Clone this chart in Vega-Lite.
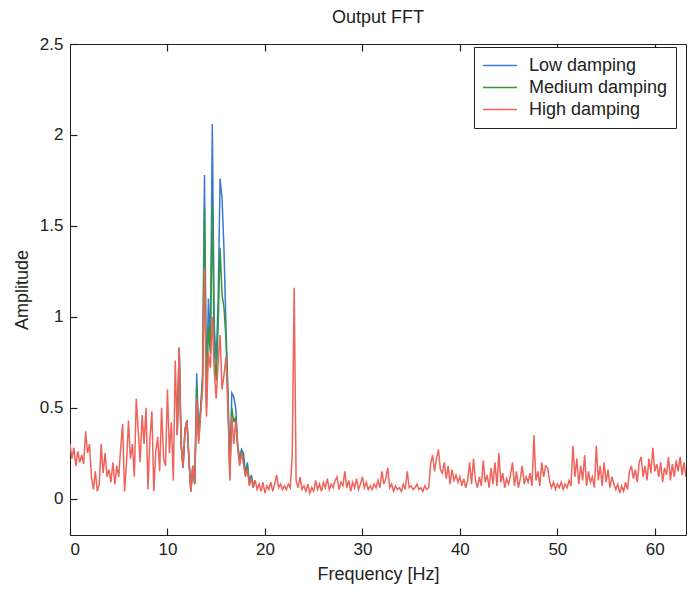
{
  "$schema": "https://vega.github.io/schema/vega-lite/v6.json",
  "autosize": "none",
  "width": 616,
  "height": 491,
  "padding": {"left": 70, "top": 44, "right": 2, "bottom": 54},
  "background": "white",
  "title": {"text": "Output FFT", "font": "Liberation Sans", "fontSize": 18, "fontWeight": "normal", "color": "#222", "offset": 8},
  "config": {
    "view": {"stroke": "#222", "strokeWidth": 1},
    "axis": {"grid": false, "domain": false, "offset": -7, "tickColor": "#222", "labelColor": "#222", "titleColor": "#222", "labelFont": "Liberation Sans", "titleFont": "Liberation Sans", "labelFontSize": 17, "titleFontSize": 18, "titleFontWeight": "normal", "tickSize": 7, "tickWidth": 1.2},
    "legend": {"labelFont": "Liberation Sans"}
  },
  "resolve": {"axis": {"x": "independent"}},
  "data": {"values": [
    {"f":0,"H":0.30},{"f":0.2,"H":0.22},{"f":0.4,"H":0.28},{"f":0.6,"H":0.18},{"f":0.8,"H":0.26},
    {"f":1,"H":0.20},{"f":1.2,"H":0.24},{"f":1.4,"H":0.19},{"f":1.6,"H":0.37},{"f":1.8,"H":0.25},
    {"f":2,"H":0.30},{"f":2.2,"H":0.12},{"f":2.4,"H":0.05},{"f":2.6,"H":0.15},{"f":2.8,"H":0.04},
    {"f":3,"H":0.08},{"f":3.2,"H":0.30},{"f":3.4,"H":0.14},{"f":3.6,"H":0.25},{"f":3.8,"H":0.12},
    {"f":4,"H":0.16},{"f":4.2,"H":0.09},{"f":4.4,"H":0.20},{"f":4.6,"H":0.08},{"f":4.8,"H":0.18},
    {"f":5,"H":0.12},{"f":5.2,"H":0.28},{"f":5.4,"H":0.41},{"f":5.6,"H":0.04},{"f":5.8,"H":0.20},
    {"f":6,"H":0.43},{"f":6.2,"H":0.22},{"f":6.4,"H":0.30},{"f":6.6,"H":0.12},{"f":6.8,"H":0.55},
    {"f":7,"H":0.38},{"f":7.2,"H":0.20},{"f":7.4,"H":0.46},{"f":7.6,"H":0.30},{"f":7.8,"H":0.50},
    {"f":8,"H":0.05},{"f":8.2,"H":0.33},{"f":8.4,"H":0.48},{"f":8.6,"H":0.04},{"f":8.8,"H":0.26},
    {"f":9,"H":0.34},{"f":9.2,"H":0.15},{"f":9.4,"H":0.50},{"f":9.6,"H":0.22},{"f":9.8,"H":0.18},
    {"f":10,"H":0.60},{"f":10.2,"H":0.25},{"f":10.4,"H":0.42},{"f":10.6,"H":0.10},{"f":10.8,"H":0.76},
    {"f":11,"H":0.35,"L":0.35,"M":0.35},{"f":11.2,"H":0.83,"L":0.83,"M":0.83},{"f":11.4,"H":0.30,"L":0.30,"M":0.30},{"f":11.6,"H":0.17,"L":0.17,"M":0.17},{"f":11.8,"H":0.38,"L":0.38,"M":0.38},
    {"f":12,"H":0.43,"L":0.43,"M":0.43},{"f":12.2,"H":0.22,"L":0.22,"M":0.22},{"f":12.4,"H":0.04,"L":0.04,"M":0.04},{"f":12.6,"H":0.18,"L":0.18,"M":0.18},{"f":12.8,"H":0.08,"L":0.08,"M":0.08},
    {"f":13,"H":0.55,"L":0.69,"M":0.62},{"f":13.2,"H":0.30,"L":0.35,"M":0.32},{"f":13.4,"H":0.46,"L":0.50,"M":0.48},{"f":13.6,"H":0.60,"L":0.68,"M":0.64},{"f":13.8,"H":1.27,"L":1.78,"M":1.60},
    {"f":14,"H":0.45,"L":0.55,"M":0.50},{"f":14.2,"H":0.80,"L":1.10,"M":0.95},{"f":14.4,"H":0.72,"L":0.85,"M":0.80},{"f":14.6,"H":1.00,"L":2.06,"M":1.62},{"f":14.8,"H":0.70,"L":0.95,"M":0.82},
    {"f":15,"H":0.55,"L":0.75,"M":0.65},{"f":15.2,"H":0.75,"L":1.10,"M":0.95},{"f":15.4,"H":0.90,"L":1.76,"M":1.38},{"f":15.6,"H":0.60,"L":1.65,"M":1.12},{"f":15.8,"H":0.68,"L":1.37,"M":1.05},
    {"f":16,"H":0.78,"L":0.95,"M":0.88},{"f":16.2,"H":0.50,"L":0.60,"M":0.55},{"f":16.4,"H":0.10,"L":0.15,"M":0.12},{"f":16.6,"H":0.45,"L":0.58,"M":0.50},{"f":16.8,"H":0.30,"L":0.56,"M":0.42},
    {"f":17,"H":0.43,"L":0.50,"M":0.45},{"f":17.2,"H":0.28,"L":0.30,"M":0.29},{"f":17.4,"H":0.18,"L":0.22,"M":0.20},{"f":17.6,"H":0.25,"L":0.27,"M":0.26},{"f":17.8,"H":0.19,"L":0.25,"M":0.21},
    {"f":18,"H":0.12,"L":0.14,"M":0.13},{"f":18.2,"H":0.16,"L":0.20,"M":0.18},{"f":18.4,"H":0.07,"L":0.09,"M":0.08},{"f":18.6,"H":0.11,"L":0.13,"M":0.12},{"f":18.8,"H":0.06,"L":0.07,"M":0.07},
    {"f":19,"H":0.10,"L":0.10,"M":0.10},{"f":19.2,"H":0.05},{"f":19.4,"H":0.08},{"f":19.6,"H":0.04},{"f":19.8,"H":0.09},
    {"f":20,"H":0.03},{"f":20.2,"H":0.07},{"f":20.4,"H":0.05},{"f":20.6,"H":0.09},{"f":20.8,"H":0.04},
    {"f":21,"H":0.08},{"f":21.2,"H":0.13},{"f":21.4,"H":0.06},{"f":21.6,"H":0.08},{"f":21.8,"H":0.05},
    {"f":22,"H":0.07},{"f":22.2,"H":0.05},{"f":22.4,"H":0.08},{"f":22.6,"H":0.06},{"f":22.8,"H":0.24},
    {"f":23,"H":1.16},{"f":23.2,"H":0.10},{"f":23.4,"H":0.06},{"f":23.6,"H":0.12},{"f":23.8,"H":0.05},
    {"f":24,"H":0.07},{"f":24.2,"H":0.04},{"f":24.4,"H":0.08},{"f":24.6,"H":0.03},{"f":24.8,"H":0.06},
    {"f":25,"H":0.04},{"f":25.2,"H":0.10},{"f":25.4,"H":0.05},{"f":25.6,"H":0.08},{"f":25.8,"H":0.04},
    {"f":26,"H":0.09},{"f":26.2,"H":0.06},{"f":26.4,"H":0.11},{"f":26.6,"H":0.05},{"f":26.8,"H":0.08},
    {"f":27,"H":0.06},{"f":27.2,"H":0.10},{"f":27.4,"H":0.12},{"f":27.6,"H":0.05},{"f":27.8,"H":0.09},
    {"f":28,"H":0.07},{"f":28.2,"H":0.15},{"f":28.4,"H":0.06},{"f":28.6,"H":0.10},{"f":28.8,"H":0.04},
    {"f":29,"H":0.09},{"f":29.2,"H":0.06},{"f":29.4,"H":0.11},{"f":29.6,"H":0.05},{"f":29.8,"H":0.08},
    {"f":30,"H":0.12},{"f":30.2,"H":0.06},{"f":30.4,"H":0.09},{"f":30.6,"H":0.05},{"f":30.8,"H":0.07},
    {"f":31,"H":0.05},{"f":31.2,"H":0.08},{"f":31.4,"H":0.06},{"f":31.6,"H":0.10},{"f":31.8,"H":0.06},
    {"f":32,"H":0.15},{"f":32.2,"H":0.08},{"f":32.4,"H":0.11},{"f":32.6,"H":0.17},{"f":32.8,"H":0.06},
    {"f":33,"H":0.08},{"f":33.2,"H":0.04},{"f":33.4,"H":0.07},{"f":33.6,"H":0.05},{"f":33.8,"H":0.06},
    {"f":34,"H":0.04},{"f":34.2,"H":0.08},{"f":34.4,"H":0.05},{"f":34.6,"H":0.15},{"f":34.8,"H":0.06},
    {"f":35,"H":0.07},{"f":35.2,"H":0.05},{"f":35.4,"H":0.06},{"f":35.6,"H":0.08},{"f":35.8,"H":0.05},
    {"f":36,"H":0.06},{"f":36.2,"H":0.04},{"f":36.4,"H":0.07},{"f":36.6,"H":0.05},{"f":36.8,"H":0.06},
    {"f":37,"H":0.19},{"f":37.2,"H":0.24},{"f":37.4,"H":0.15},{"f":37.6,"H":0.22},{"f":37.8,"H":0.27},
    {"f":38,"H":0.16},{"f":38.2,"H":0.14},{"f":38.4,"H":0.20},{"f":38.6,"H":0.11},{"f":38.8,"H":0.18},
    {"f":39,"H":0.08},{"f":39.2,"H":0.16},{"f":39.4,"H":0.10},{"f":39.6,"H":0.13},{"f":39.8,"H":0.09},
    {"f":40,"H":0.12},{"f":40.2,"H":0.07},{"f":40.4,"H":0.11},{"f":40.6,"H":0.06},{"f":40.8,"H":0.10},
    {"f":41,"H":0.20},{"f":41.2,"H":0.08},{"f":41.4,"H":0.22},{"f":41.6,"H":0.10},{"f":41.8,"H":0.06},
    {"f":42,"H":0.12},{"f":42.2,"H":0.07},{"f":42.4,"H":0.21},{"f":42.6,"H":0.09},{"f":42.8,"H":0.13},
    {"f":43,"H":0.06},{"f":43.2,"H":0.17},{"f":43.4,"H":0.08},{"f":43.6,"H":0.20},{"f":43.8,"H":0.07},
    {"f":44,"H":0.25},{"f":44.2,"H":0.09},{"f":44.4,"H":0.14},{"f":44.6,"H":0.06},{"f":44.8,"H":0.11},
    {"f":45,"H":0.08},{"f":45.2,"H":0.13},{"f":45.4,"H":0.20},{"f":45.6,"H":0.07},{"f":45.8,"H":0.15},
    {"f":46,"H":0.06},{"f":46.2,"H":0.11},{"f":46.4,"H":0.18},{"f":46.6,"H":0.08},{"f":46.8,"H":0.12},
    {"f":47,"H":0.09},{"f":47.2,"H":0.14},{"f":47.4,"H":0.07},{"f":47.6,"H":0.35},{"f":47.8,"H":0.10},
    {"f":48,"H":0.15},{"f":48.2,"H":0.07},{"f":48.4,"H":0.20},{"f":48.6,"H":0.12},{"f":48.8,"H":0.18},
    {"f":49,"H":0.17},{"f":49.2,"H":0.10},{"f":49.4,"H":0.06},{"f":49.6,"H":0.09},{"f":49.8,"H":0.05},
    {"f":50,"H":0.08},{"f":50.2,"H":0.06},{"f":50.4,"H":0.09},{"f":50.6,"H":0.05},{"f":50.8,"H":0.08},
    {"f":51,"H":0.06},{"f":51.2,"H":0.10},{"f":51.4,"H":0.07},{"f":51.6,"H":0.29},{"f":51.8,"H":0.12},
    {"f":52,"H":0.22},{"f":52.2,"H":0.08},{"f":52.4,"H":0.18},{"f":52.6,"H":0.10},{"f":52.8,"H":0.24},
    {"f":53,"H":0.07},{"f":53.2,"H":0.15},{"f":53.4,"H":0.09},{"f":53.6,"H":0.12},{"f":53.8,"H":0.06},
    {"f":54,"H":0.29},{"f":54.2,"H":0.10},{"f":54.4,"H":0.18},{"f":54.6,"H":0.07},{"f":54.8,"H":0.20},
    {"f":55,"H":0.09},{"f":55.2,"H":0.16},{"f":55.4,"H":0.06},{"f":55.6,"H":0.12},{"f":55.8,"H":0.08},
    {"f":56,"H":0.05},{"f":56.2,"H":0.08},{"f":56.4,"H":0.03},{"f":56.6,"H":0.07},{"f":56.8,"H":0.04},
    {"f":57,"H":0.09},{"f":57.2,"H":0.05},{"f":57.4,"H":0.15},{"f":57.6,"H":0.18},{"f":57.8,"H":0.11},
    {"f":58,"H":0.16},{"f":58.2,"H":0.09},{"f":58.4,"H":0.20},{"f":58.6,"H":0.23},{"f":58.8,"H":0.12},
    {"f":59,"H":0.18},{"f":59.2,"H":0.10},{"f":59.4,"H":0.22},{"f":59.6,"H":0.14},{"f":59.8,"H":0.28},
    {"f":60,"H":0.15},{"f":60.2,"H":0.19},{"f":60.4,"H":0.12},{"f":60.6,"H":0.20},{"f":60.8,"H":0.09},
    {"f":61,"H":0.17},{"f":61.2,"H":0.13},{"f":61.4,"H":0.23},{"f":61.6,"H":0.10},{"f":61.8,"H":0.19},
    {"f":62,"H":0.12},{"f":62.2,"H":0.21},{"f":62.4,"H":0.15},{"f":62.6,"H":0.23},{"f":62.8,"H":0.13},
    {"f":63,"H":0.20},{"f":63.2,"H":0.12}
  ]},
  "encoding": {
    "x": {"field": "f", "type": "quantitative", "scale": {"domain": [0, 63.2], "nice": false, "zero": false}},
    "color": {
      "scale": {"domain": ["Low damping", "Medium damping", "High damping"], "range": ["#3b78d0", "#36983a", "#f0625a"]},
      "legend": {"title": null, "orient": "none", "legendX": 404, "legendY": 3, "fillColor": "white", "strokeColor": "#222", "padding": 8, "symbolType": "stroke", "symbolSize": 1156, "symbolStrokeWidth": 1.5, "clipHeight": 21, "rowPadding": 1, "labelFontSize": 18, "labelColor": "#222", "labelOffset": 11, "labelLimit": 300}
    }
  },
  "layer": [
    {
      "mark": {"type": "line", "strokeWidth": 1.5, "clip": true},
      "encoding": {
        "x": {"field": "f", "type": "quantitative", "axis": {"orient": "top", "values": [10,20,30,40,50,60], "labels": false, "title": null}},
        "y": {"field": "L", "type": "quantitative", "scale": {"domain": [-0.2, 2.5], "nice": false, "zero": false}},
        "color": {"datum": "Low damping"}
      }
    },
    {
      "mark": {"type": "line", "strokeWidth": 1.5, "clip": true},
      "encoding": {
        "x": {"field": "f", "type": "quantitative", "axis": null},
        "y": {"field": "M", "type": "quantitative"},
        "color": {"datum": "Medium damping"}
      }
    },
    {
      "mark": {"type": "line", "strokeWidth": 1.5, "clip": true},
      "encoding": {
        "x": {"field": "f", "type": "quantitative", "axis": {"orient": "bottom", "title": "Frequency [Hz]", "values": [0,10,20,30,40,50,60], "labelPadding": 6, "titlePadding": 8}},
        "y": {"field": "H", "type": "quantitative", "axis": {"title": "Amplitude", "values": [0,0.5,1,1.5,2,2.5], "format": "~g", "labelPadding": 7, "titlePadding": 8}},
        "color": {"datum": "High damping"}
      }
    }
  ]
}
